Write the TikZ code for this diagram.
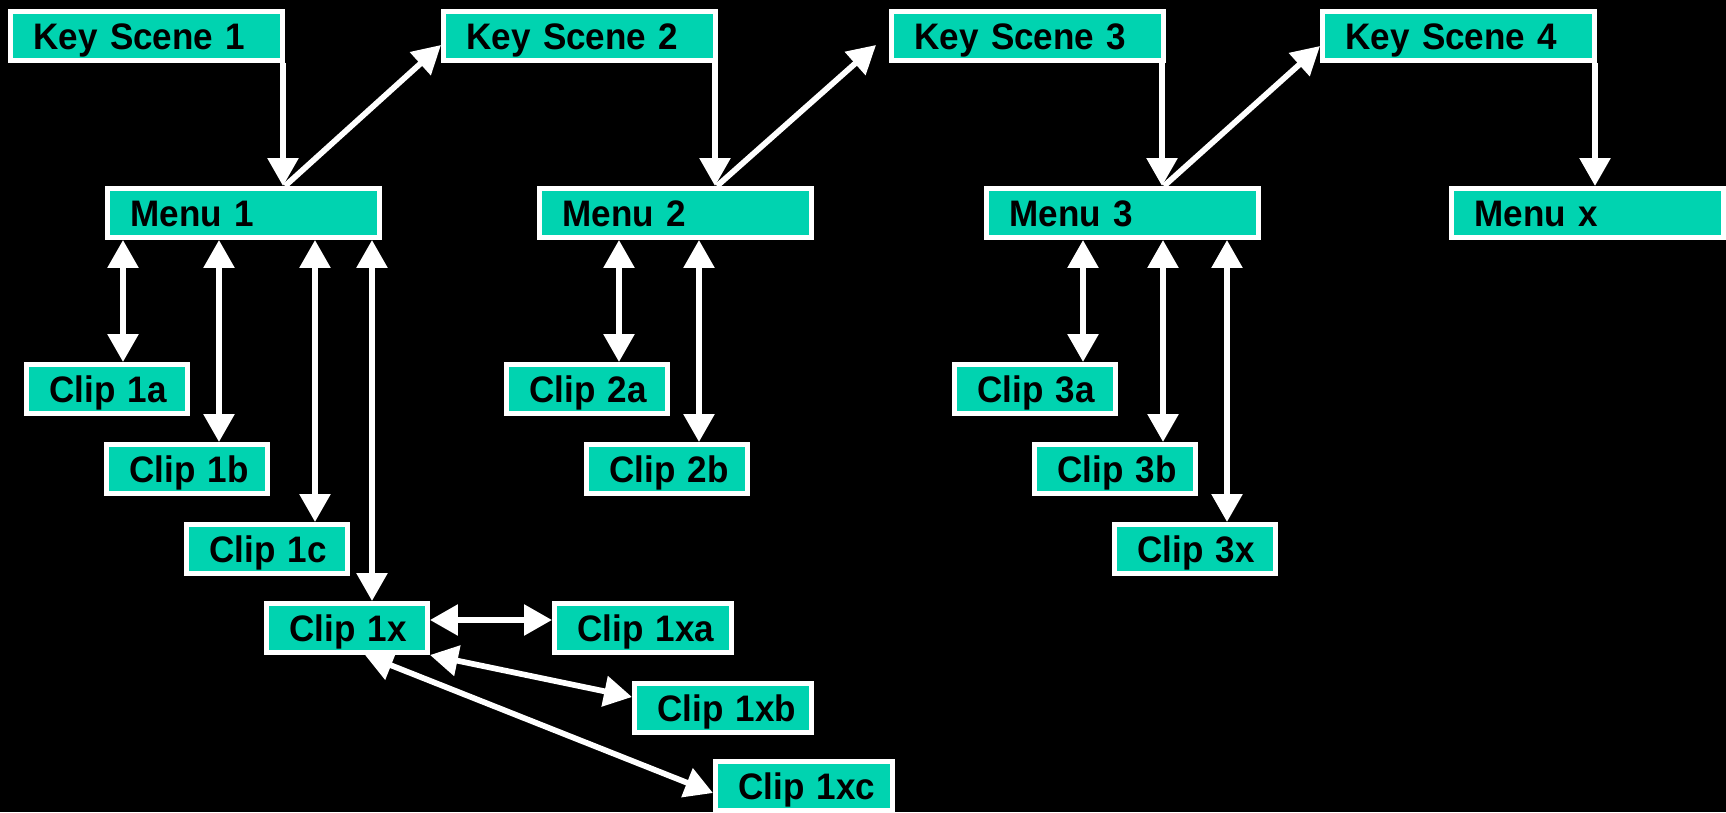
\documentclass[tikz,border=0pt]{standalone}
\usepackage{fontspec}
\setmainfont{Liberation Sans}[BoldFeatures={FakeStretch=0.95}]
\usetikzlibrary{arrows.meta}
\definecolor{clipteal}{HTML}{00D3B0}
\tikzset{
  box/.style={draw=white, fill=clipteal, line width=0.1cm, anchor=north west,
    inner xsep=0pt, inner ysep=0pt, minimum height=0.98cm, align=left,
    text height=0.53cm, text depth=0pt,
    font=\bfseries\fontsize{21}{25}\selectfont,
    execute at begin node={\hspace*{0.46cm}}},
  scene/.style={box, text width=5.44cm},
  clip/.style={box, text width=3.22cm},
  subclip/.style={box, text width=3.54cm},
  link/.style={draw=white, line width=0.115cm}
}
\begin{document}
\begin{tikzpicture}[x=0.02cm,y=-0.02cm,>={Triangle[width=0.6cm,length=0.56cm]}]
\useasboundingbox (0,0) rectangle (1726,812);
\fill[black] (0,0) rectangle (1726,812);
%\draw[help lines] (0,0) grid[step=100] (1726,812);

\node (ks1) at (8,9) [scene] {Key Scene 1};
\node (ks2) at (441,9) [scene] {Key Scene 2};
\node (ks3) at (889,9) [scene] {Key Scene 3};
\node (ks4) at (1320,9) [scene] {Key Scene 4};

\node (m1) at (105,186) [scene] {Menu 1};
\node (m2) at (537,186) [scene] {Menu 2};
\node (m3) at (984,186) [scene] {Menu 3};
\node (mx) at (1449,186) [scene] {Menu x};

\node (c1a) at (24,362) [clip] {Clip 1a};
\node (c1b) at (104,442) [clip] {Clip 1b};
\node (c1c) at (184,522) [clip] {Clip 1c};
\node (c1x) at (264,601) [clip] {Clip 1x};
\node (c1xa) at (552,601) [subclip] {Clip 1xa};
\node (c1xb) at (632,681) [subclip] {Clip 1xb};
\node (c1xc) at (713,759) [subclip] {Clip 1xc};

\node (c2a) at (504,362) [clip] {Clip 2a};
\node (c2b) at (584,442) [clip] {Clip 2b};

\node (c3a) at (952,362) [clip] {Clip 3a};
\node (c3b) at (1032,442) [clip] {Clip 3b};
\node (c3x) at (1112,522) [clip] {Clip 3x};

\coordinate (open) at (876,45);

\draw [link,->] (ks1.south -| 283,0) -- (m1.north -| 283,0);
\draw [link,->] (m1.north -| 285,0) -- (ks2.west |- 0,45);
\draw [link,->] (ks2.south -| 715,0) -- (m2.north -| 715,0);
\draw [link,->] (m2.north -| 717,0) -- (open);
\draw [link,->] (ks3.south -| 1162,0) -- (m3.north -| 1162,0);
\draw [link,->] (m3.north -| 1164,0) -- (ks4.west |- 0,46);
\draw [link,->] (ks4.south -| 1595,0) -- (mx.north -| 1595,0);

\draw [link,<->] (m1.south -| 123,0) -- (c1a.north -| 123,0);
\draw [link,<->] (m1.south -| 219,0) -- (c1b.north -| 219,0);
\draw [link,<->] (m1.south -| 315,0) -- (c1c.north -| 315,0);
\draw [link,<->] (m1.south -| 372,0) -- (c1x.north -| 372,0);
\draw [link,<->] (m2.south -| 619,0) -- (c2a.north -| 619,0);
\draw [link,<->] (m2.south -| 699,0) -- (c2b.north -| 699,0);
\draw [link,<->] (m3.south -| 1083,0) -- (c3a.north -| 1083,0);
\draw [link,<->] (m3.south -| 1163,0) -- (c3b.north -| 1163,0);
\draw [link,<->] (m3.south -| 1227,0) -- (c3x.north -| 1227,0);

\draw [link,<->] (c1x.east |- 0,620) -- (c1xa.west |- 0,620);
\draw [link,<->] (c1x.south east) -- (c1xb.west |- 0,697);
\draw [link,<->] (c1x.south -| 365,0) -- (c1xc.west |- 0,793);
\end{tikzpicture}
\end{document}
